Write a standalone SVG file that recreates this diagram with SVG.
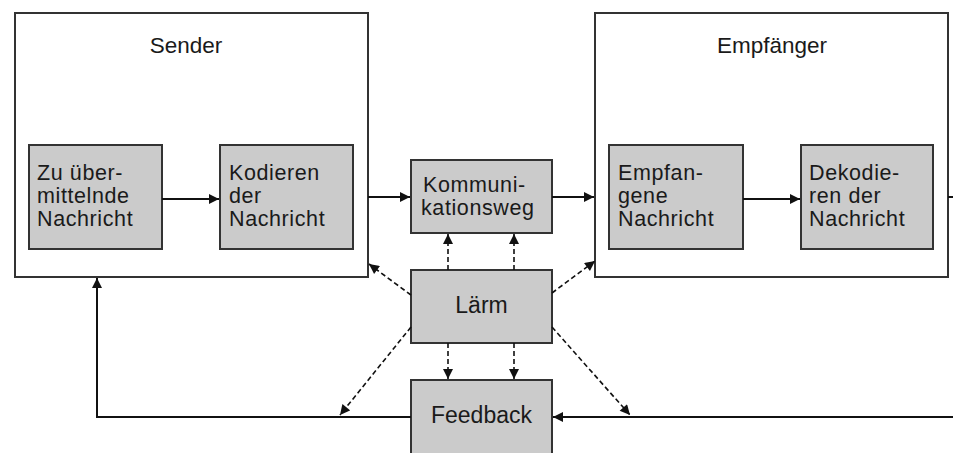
<svg xmlns="http://www.w3.org/2000/svg" width="953" height="453" viewBox="0 0 953 453">
  <style>
    .outer { fill: #ffffff; stroke: #333333; stroke-width: 2; }
    .inner { fill: #cbcbcb; stroke: #333333; stroke-width: 2; }
    .title { font-family: "Liberation Sans", Arial, sans-serif; font-size: 22.5px; fill: #1a1a1a; text-anchor: middle; }
    .label { font-family: "Liberation Sans", Arial, sans-serif; font-size: 21.5px; letter-spacing: 0.6px; fill: #1a1a1a; }
    .single { font-family: "Liberation Sans", Arial, sans-serif; font-size: 23px; fill: #1a1a1a; text-anchor: middle; }
    .flow { fill: none; stroke: #111111; stroke-width: 2; }
    .noise { fill: none; stroke: #111111; stroke-width: 1.6; stroke-dasharray: 5 3; }
  </style>
  <defs>
    <marker id="arrow" viewBox="0 0 10 10" refX="10" refY="5" markerWidth="11" markerHeight="10" markerUnits="userSpaceOnUse" orient="auto">
      <path d="M0,0 L10,5 L0,10 Z" fill="#111111"/>
    </marker>
  </defs>

  <rect width="953" height="453" fill="#ffffff"/>

  <g id="sender">
    <rect class="outer" x="15" y="13" width="353" height="264"/>
    <text class="title" x="186" y="53">Sender</text>
  </g>
  <g id="nachricht-sender">
    <rect class="inner" x="29" y="145" width="133" height="104"/>
    <text class="label" x="37" y="180">Zu über-</text>
    <text class="label" x="37" y="203">mittelnde</text>
    <text class="label" x="37" y="226">Nachricht</text>
  </g>
  <g id="kodieren">
    <rect class="inner" x="220" y="145" width="133" height="104"/>
    <text class="label" x="229" y="180">Kodieren</text>
    <text class="label" x="229" y="203">der</text>
    <text class="label" x="229" y="226">Nachricht</text>
  </g>

  <g id="empfaenger">
    <rect class="outer" x="595" y="13" width="353" height="264"/>
    <text class="title" x="772" y="53">Empfänger</text>
  </g>
  <g id="nachricht-empfaenger">
    <rect class="inner" x="609" y="145" width="134" height="104"/>
    <text class="label" x="618" y="180">Empfan-</text>
    <text class="label" x="618" y="203">gene</text>
    <text class="label" x="618" y="226">Nachricht</text>
  </g>
  <g id="dekodieren">
    <rect class="inner" x="801" y="145" width="132" height="104"/>
    <text class="label" x="809" y="180">Dekodie-</text>
    <text class="label" x="809" y="203">ren der</text>
    <text class="label" x="809" y="226">Nachricht</text>
  </g>

  <g id="kommunikationsweg">
    <rect class="inner" x="411" y="160" width="141" height="73"/>
    <text class="label" x="423" y="192">Kommuni-</text>
    <text class="label" x="421" y="215">kationsweg</text>
  </g>
  <g id="laerm">
    <rect class="inner" x="411" y="270" width="141" height="73"/>
    <text class="single" x="481.5" y="313">Lärm</text>
  </g>
  <g id="feedback">
    <rect class="inner" x="411" y="380" width="141" height="80"/>
    <text class="single" x="481.5" y="423">Feedback</text>
  </g>

  <g id="connectors">
    <!-- message flow -->
    <line class="flow" x1="162" y1="199" x2="219" y2="199" marker-end="url(#arrow)"/>
    <line class="flow" x1="368" y1="197" x2="410" y2="197" marker-end="url(#arrow)"/>
    <line class="flow" x1="552" y1="197" x2="594" y2="197" marker-end="url(#arrow)"/>
    <line class="flow" x1="743" y1="199" x2="800" y2="199" marker-end="url(#arrow)"/>
    <line class="flow" x1="948" y1="197" x2="953" y2="197"/>
    <!-- feedback loop -->
    <line class="flow" x1="953" y1="417" x2="553" y2="417" marker-end="url(#arrow)"/>
    <polyline class="flow" points="411,417 97,417 97,278" marker-end="url(#arrow)"/>
    <!-- noise -->
    <line class="noise" x1="448" y1="270" x2="448" y2="234" marker-end="url(#arrow)"/>
    <line class="noise" x1="514" y1="270" x2="514" y2="234" marker-end="url(#arrow)"/>
    <line class="noise" x1="448" y1="343" x2="448" y2="379" marker-end="url(#arrow)"/>
    <line class="noise" x1="514" y1="343" x2="514" y2="379" marker-end="url(#arrow)"/>
    <line class="noise" x1="411" y1="295" x2="369" y2="264" marker-end="url(#arrow)"/>
    <line class="noise" x1="552" y1="293" x2="595" y2="261" marker-end="url(#arrow)"/>
    <line class="noise" x1="411" y1="327" x2="340" y2="415" marker-end="url(#arrow)"/>
    <line class="noise" x1="552" y1="327" x2="630" y2="415" marker-end="url(#arrow)"/>
  </g>
</svg>
